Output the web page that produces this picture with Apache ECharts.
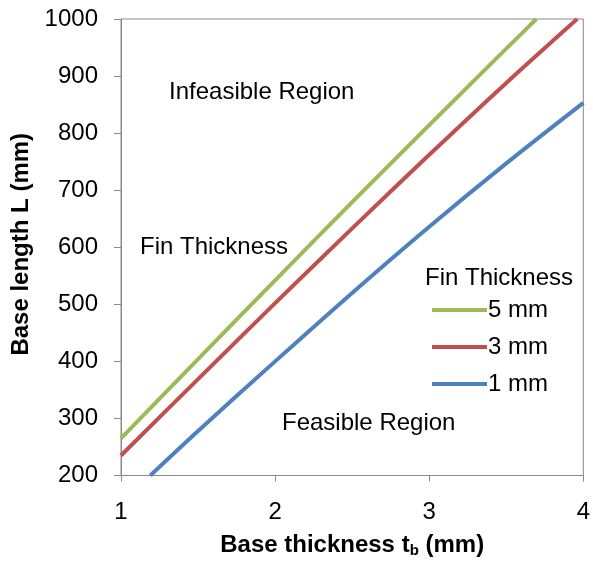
<!DOCTYPE html>
<html>
<head>
<meta charset="utf-8">
<script src="https://cdn.jsdelivr.net/npm/echarts@6/dist/echarts.min.js"></script>
<style>
  html, body { margin: 0; padding: 0; background: #fff; }
  #chart { width: 593px; height: 563px; }
</style>
</head>
<body>
<div id="chart"></div>
<script>
// base thickness tb (mm) and base length L (mm)
const tb5 = [1, 1.5, 2, 2.5, 3, 3.5, 3.695]
const len5 = [265, 404, 542, 679, 814, 948, 1000]
const tb3 = [1, 1.5, 2, 2.5, 3, 3.5, 3.96]
const len3 = [235, 369, 502, 633, 762, 888, 1000]
const tb1 = [1.19, 1.5, 2, 2.5, 3, 3.5, 4]
const len1 = [200, 278, 400, 520, 636, 747, 853]

const seriesNames = ['5 mm', '3 mm', '1 mm']
const colors = ['#9bbb59', '#c0504d', '#4f81bd']
const xTicks = [1, 2, 3, 4]
const yTicks = [200, 300, 400, 500, 600, 700, 800, 900, 1000]

const pairs = (xs, ys) => xs.map((x, i) => [x, ys[i]])
const axisGray = '#8a8a8a'
const font = 'Liberation Sans, Arial, sans-serif'

const chart = echarts.init(document.getElementById('chart'))

const series = [pairs(tb5, len5), pairs(tb3, len3), pairs(tb1, len1)].map((d, i) => ({
  name: seriesNames[i],
  type: 'line',
  data: d,
  symbol: 'none',
  smooth: 0.3,
  lineStyle: { color: colors[i], width: 4 },
  itemStyle: { color: colors[i] }
}))

chart.setOption({
  animation: false,
  textStyle: { fontFamily: font, color: '#000' },
  grid: {
    left: 121, right: 7, top: 19, bottom: 86,
    show: true, borderColor: axisGray, borderWidth: 1
  },
  legend: {
    data: seriesNames,
    orient: 'vertical',
    left: 427,
    top: 292,
    icon: 'rect',
    itemWidth: 55,
    itemHeight: 4,
    itemGap: 11,
    textStyle: { fontSize: 24, color: '#000', fontFamily: font, lineHeight: 26, padding: [0, 0, 0, -4] }
  },
  xAxis: {
    type: 'value',
    min: xTicks[0],
    max: xTicks[xTicks.length - 1],
    interval: 1,
    name: '{a|Base thickness t}{s|b}{a| (mm)}',
    nameLocation: 'middle',
    nameGap: 56,
    nameTextStyle: {
      rich: {
        a: { fontSize: 24, fontWeight: 'bold', fontFamily: font, color: '#000', lineHeight: 28 },
        s: { fontSize: 15, fontWeight: 'bold', fontFamily: font, color: '#000', lineHeight: 28, padding: [10, 0, 0, 0] }
      }
    },
    axisLine: { lineStyle: { color: axisGray } },
    axisTick: { show: true, length: 6, lineStyle: { color: axisGray } },
    axisLabel: { fontSize: 24, color: '#000', margin: 25 },
    splitLine: { show: false }
  },
  yAxis: {
    type: 'value',
    min: yTicks[0],
    max: yTicks[yTicks.length - 1],
    interval: 100,
    name: 'Base length L (mm)',
    nameLocation: 'middle',
    nameGap: 82,
    nameTextStyle: { fontSize: 24, fontWeight: 'bold', color: '#000', padding: [0, 0, 0, 6] },
    axisLine: { show: true, lineStyle: { color: axisGray } },
    axisTick: { show: true, length: 7, lineStyle: { color: axisGray } },
    axisLabel: { fontSize: 24, color: '#000', margin: 23, formatter: v => String(v) },
    splitLine: { show: false }
  },
  graphic: [
    { type: 'text', left: 169, top: 80, style: { text: 'Infeasible Region', fontSize: 24, fontFamily: font, fill: '#000' } },
    { type: 'text', left: 140, top: 235, style: { text: 'Fin Thickness', fontSize: 24, fontFamily: font, fill: '#000' } },
    { type: 'text', left: 425, top: 266, style: { text: 'Fin Thickness', fontSize: 24, fontFamily: font, fill: '#000' } },
    { type: 'text', left: 282, top: 411, style: { text: 'Feasible Region', fontSize: 24, fontFamily: font, fill: '#000' } }
  ],
  series
})
</script>
</body>
</html>
